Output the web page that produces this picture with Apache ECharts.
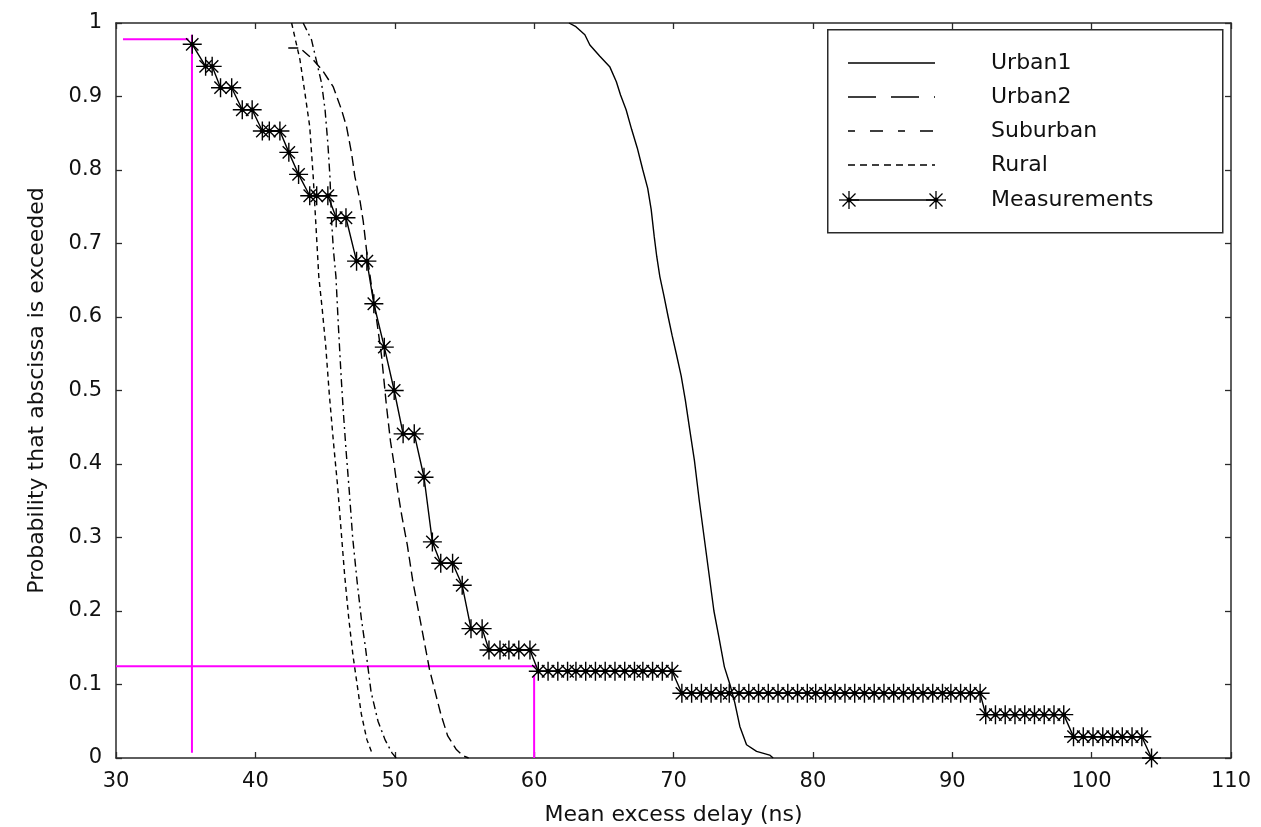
<!DOCTYPE html>
<html>
<head>
<meta charset="utf-8">
<script src="https://cdn.jsdelivr.net/npm/echarts@6/dist/echarts.min.js"></script>
<style>
  html, body { margin: 0; padding: 0; background: #fff; }
  #chart { width: 1261px; height: 827px; }
</style>
</head>
<body>
<div id="chart"></div>
<script>
// Axis ranges and tick labels
const xTickLabels = ['30', '40', '50', '60', '70', '80', '90', '100', '110'];
const yTickLabels = ['0', '0.1', '0.2', '0.3', '0.4', '0.5', '0.6', '0.7', '0.8', '0.9', '1'];

// Model CDF curves: [mean excess delay (ns), probability that abscissa is exceeded]
const urban1 = [[62.5,1.0],[63.0,0.995],[63.64,0.984],[64.0,0.97],[64.7,0.955],[65.44,0.94],[65.9,0.92],
  [66.2,0.902],[66.6,0.882],[67.0,0.855],[67.4,0.83],[67.8,0.80],[68.15,0.775],[68.4,0.746],
  [68.62,0.709],[68.8,0.682],[69.02,0.655],[69.3,0.63],[69.62,0.60],[69.9,0.575],[70.2,0.55],
  [70.55,0.52],[70.85,0.487],[71.17,0.446],[71.5,0.405],[71.85,0.35],[72.2,0.30],[72.55,0.25],
  [72.9,0.20],[73.25,0.165],[73.65,0.124],[74.05,0.10],[74.4,0.075],[74.76,0.043],
  [75.24,0.018],[75.96,0.009],[76.9,0.004],[77.15,0]];

const urban2 = [[42.36,0.966],[43.2,0.966],[44.15,0.95],[44.87,0.934],[45.59,0.913],[46.18,0.882],
  [46.54,0.859],[46.9,0.823],[47.14,0.791],[47.5,0.759],[47.74,0.73],[48.0,0.687],[48.34,0.641],
  [48.7,0.596],[49.06,0.546],[49.4,0.48],[49.7,0.43],[49.95,0.40],[50.2,0.365],[50.5,0.33],
  [50.9,0.29],[51.3,0.24],[51.7,0.20],[52.1,0.16],[52.5,0.12],[52.9,0.09],[53.3,0.06],
  [53.8,0.03],[54.4,0.012],[54.9,0.003],[55.3,0]];

const suburban = [[43.43,1.0],[44.03,0.977],[44.4,0.947],[44.75,0.918],[45.0,0.882],[45.2,0.836],
  [45.35,0.791],[45.47,0.73],[45.6,0.691],[45.78,0.655],[45.95,0.59],[46.15,0.52],[46.3,0.474],
  [46.5,0.42],[46.75,0.36],[46.98,0.30],[47.3,0.24],[47.6,0.19],[47.9,0.15],[48.3,0.09],
  [48.8,0.05],[49.3,0.025],[49.8,0.007],[50.1,0]];

const rural = [[42.6,1.0],[43.2,0.95],[43.56,0.904],[43.9,0.859],[44.15,0.791],[44.35,0.723],
  [44.55,0.655],[44.8,0.61],[45.05,0.56],[45.3,0.496],[45.6,0.43],[45.9,0.37],[46.15,0.31],
  [46.4,0.25],[46.7,0.19],[47.0,0.14],[47.3,0.10],[47.6,0.06],[48.0,0.025],[48.4,0.005]];

// Measured empirical distribution
const measurements = [[35.47,0.971],[36.43,0.941],[36.9,0.941],[37.5,0.912],[38.3,0.912],
  [39.06,0.882],[39.77,0.882],[40.5,0.853],[41.0,0.853],[41.76,0.853],[42.4,0.824],[43.1,0.794],
  [43.9,0.765],[44.4,0.765],[45.2,0.765],[45.8,0.735],[46.5,0.735],[47.26,0.676],[48.0,0.676],
  [48.5,0.618],[49.25,0.559],[49.96,0.5],[50.6,0.441],[51.4,0.441],[52.1,0.382],[52.7,0.294],
  [53.3,0.265],[54.15,0.265],[54.84,0.235],[55.47,0.176],[56.27,0.176],
  [56.76,0.147],[57.55,0.147],[58.19,0.147],[58.9,0.147],[59.7,0.147],
  [60.3,0.118],[61.0,0.118],[61.7,0.118],[62.4,0.118],[63.0,0.118],[63.7,0.118],[64.4,0.118],
  [65.1,0.118],[65.8,0.118],[66.5,0.118],[67.2,0.118],[67.8,0.118],[68.5,0.118],[69.2,0.118],[69.9,0.118],
  [70.6,0.088],[71.3,0.088],[72.0,0.088],[72.7,0.088],[73.4,0.088],[74.0,0.088],[74.7,0.088],
  [75.4,0.088],[76.1,0.088],[76.8,0.088],[77.5,0.088],[78.2,0.088],[78.9,0.088],[79.6,0.088],
  [80.2,0.088],[80.9,0.088],[81.6,0.088],[82.3,0.088],[83.0,0.088],[83.7,0.088],[84.4,0.088],
  [85.1,0.088],[85.8,0.088],[86.5,0.088],[87.2,0.088],[87.9,0.088],[88.6,0.088],[89.3,0.088],
  [89.9,0.088],[90.6,0.088],[91.3,0.088],[92.0,0.088],
  [92.4,0.059],[93.1,0.059],[93.8,0.059],[94.5,0.059],[95.2,0.059],[95.9,0.059],[96.6,0.059],
  [97.3,0.059],[98.0,0.059],
  [98.7,0.029],[99.4,0.029],[100.1,0.029],[100.8,0.029],[101.5,0.029],[102.2,0.029],[102.9,0.029],
  [103.6,0.029],
  [104.3,0]];

// Reference lines marking two read-off points
const guideUpperH = [[30.5,0.978],[35.2,0.978]];
const guideUpperV = [[35.45,0.984],[35.45,0.007]];
const guideLowerH = [[30,0.125],[60.2,0.125]];
const guideLowerV = [[60,0.113],[60,0]];

const FONT = 'DejaVu Sans';
const INK = '#111';
const FRAME = '#2a2a2a';

// Asterisk marker: plus + cross with a filled centre
const STAR = 'path://M0,10H20M10,0V20M3.5,3.5L16.5,16.5M16.5,3.5L3.5,16.5M8.4,8.4H11.6V11.6H8.4Z';

function axisBase(extra) {
  return Object.assign({
    type: 'value',
    axisLine: { show: true, onZero: false, lineStyle: { color: FRAME, width: 1.5 } },
    axisTick: { show: true, inside: true, length: 6, lineStyle: { color: FRAME, width: 1.3 } },
    splitLine: { show: false },
    axisLabel: { show: false }
  }, extra);
}

function curve(name, data, dash) {
  return {
    name, type: 'line', data, xAxisIndex: 0, yAxisIndex: 0,
    showSymbol: false, silent: true, animation: false,
    lineStyle: { color: '#000', width: 1.4, type: dash || 'solid' },
    z: 3
  };
}

function guide(data) {
  return {
    type: 'line', data, xAxisIndex: 0, yAxisIndex: 0,
    showSymbol: false, silent: true, animation: false,
    lineStyle: { color: '#ff00ff', width: 2 },
    z: 2
  };
}

// Legend box drawn as graphic elements
const legendEntries = ['Urban1', 'Urban2', 'Suburban', 'Rural', 'Measurements'];
const legendDash = ['solid', [28, 15], [7, 15, 13, 15], [7, 5], 'solid'];
const legendRowY = [63, 97, 131, 165, 200];
const legendGraphic = [{
  type: 'rect', left: 827, top: 29, silent: true,
  shape: { width: 395, height: 203 },
  style: { fill: '#fff', stroke: FRAME, lineWidth: 1.5 }, z: 10
}];
legendEntries.forEach((label, i) => {
  const y = legendRowY[i];
  legendGraphic.push({
    type: 'line', silent: true, z: 11,
    shape: { x1: 848, y1: y, x2: 935, y2: y },
    style: { stroke: '#000', lineWidth: 1.4, lineDash: legendDash[i] === 'solid' ? null : legendDash[i] }
  });
  legendGraphic.push({
    type: 'text', silent: true, z: 11, x: 991, y: y,
    style: { text: label, font: '22px "' + FONT + '"', fill: INK, verticalAlign: 'middle', align: 'left' }
  });
});
[849, 936].forEach(cx => {
  const cy = legendRowY[4];
  const arms = [[-10, 0, 10, 0], [0, -9, 0, 9], [-6.5, -6.5, 6.5, 6.5], [6.5, -6.5, -6.5, 6.5]];
  arms.forEach(a => legendGraphic.push({
    type: 'line', silent: true, z: 12,
    shape: { x1: cx + a[0], y1: cy + a[1], x2: cx + a[2], y2: cy + a[3] },
    style: { stroke: '#000', lineWidth: 1.3 }
  }));
  legendGraphic.push({
    type: 'circle', silent: true, z: 12,
    shape: { cx: cx, cy: cy, r: 2.4 }, style: { fill: '#000' }
  });
});

const chart = echarts.init(document.getElementById('chart'), null, { renderer: 'canvas' });
chart.setOption({
  backgroundColor: '#fff',
  animation: false,
  grid: { left: 116, right: 30, top: 23, bottom: 69, containLabel: false, outerBoundsMode: 'none' },
  xAxis: [
    axisBase({
      min: 30, max: 110, interval: 10, position: 'bottom',
      axisLabel: {
        show: true, margin: 13, color: INK, fontFamily: FONT, fontSize: 21,
        formatter: (v) => xTickLabels[Math.round((v - 30) / 10)]
      },
      name: 'Mean excess delay (ns)', nameLocation: 'middle', nameGap: 46,
      nameTextStyle: { color: INK, fontFamily: FONT, fontSize: 22 }
    }),
    axisBase({ min: 30, max: 110, interval: 10, position: 'top' })
  ],
  yAxis: [
    axisBase({
      min: 0, max: 1, interval: 0.1, position: 'left',
      axisLabel: {
        show: true, margin: 14, color: INK, fontFamily: FONT, fontSize: 21,
        formatter: (v) => yTickLabels[Math.round(v * 10)]
      },
      name: 'Probability that abscissa is exceeded', nameLocation: 'middle', nameGap: 68,
      nameTextStyle: { color: INK, fontFamily: FONT, fontSize: 22 }
    }),
    axisBase({ min: 0, max: 1, interval: 0.1, position: 'right' })
  ],
  graphic: legendGraphic,
  series: [
    guide(guideUpperH), guide(guideUpperV), guide(guideLowerH), guide(guideLowerV),
    curve('Urban1', urban1),
    curve('Urban2', urban2, [10, 5]),
    curve('Suburban', suburban, [8, 4, 2, 4]),
    curve('Rural', rural, [5, 4]),
    {
      name: 'Measurements', type: 'line', data: measurements, xAxisIndex: 0, yAxisIndex: 0,
      silent: true, animation: false, z: 4,
      lineStyle: { color: '#000', width: 1.4 },
      showSymbol: true, symbol: STAR, symbolSize: 19,
      itemStyle: { color: '#000', borderColor: '#000', borderWidth: 1.4 }
    }
  ]
});
</script>
</body>
</html>
